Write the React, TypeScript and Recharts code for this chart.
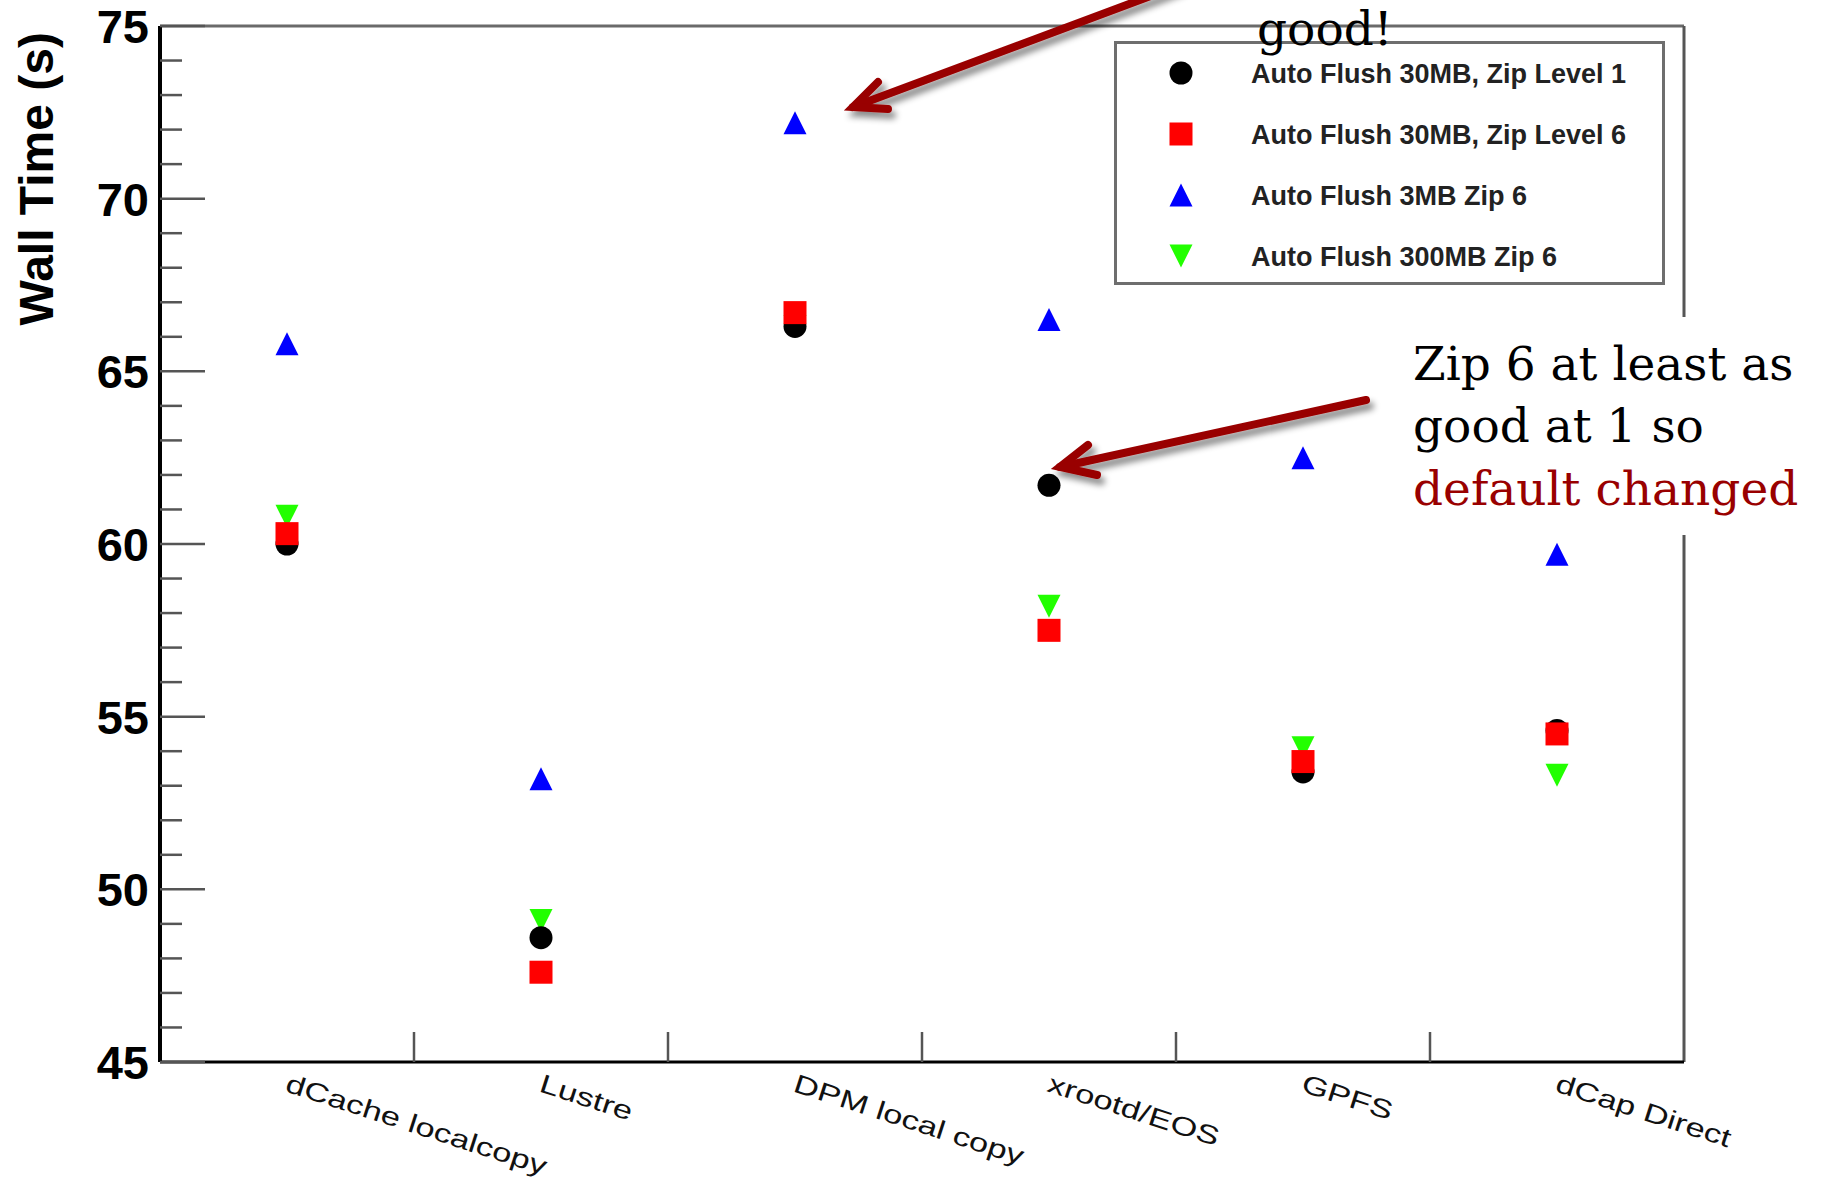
import React from 'react';
import {Legend, ReferenceLine, Scatter, ScatterChart, XAxis, YAxis} from 'recharts';

// storage back-ends on the x axis
const categories = ['dCache localcopy', 'Lustre', 'DPM local copy', 'xrootd/EOS', 'GPFS', 'dCap Direct'];

// wall time (s) per back-end
const flush30Zip1 = [60.0, 48.6, 66.3, 61.7, 53.4, 54.6];
const flush30Zip6 = [60.3, 47.6, 66.7, 57.5, 53.7, 54.5];
const flush3Zip6 = [65.8, 53.2, 72.2, 66.5, 62.5, 59.7];
const flush300Zip6 = [60.8, 49.1, 66.3, 58.2, 54.1, 53.3];

const yDomain = [45, 75];
const yTicks = Array.from({length: 31}, (_, i) => 45 + i);
// half values carry the labels, whole values are the separators between bins
const xTicks = [0.5, 1, 1.5, 2, 2.5, 3, 3.5, 4, 4.5, 5, 5.5];

const series = [
    {name: 'Auto Flush 30MB, Zip Level 1', values: flush30Zip1, color: '#000000', shape: 'circle'},
    {name: 'Auto Flush 30MB, Zip Level 6', values: flush30Zip6, color: '#ff0000', shape: 'square'},
    {name: 'Auto Flush 3MB Zip 6', values: flush3Zip6, color: '#0000ff', shape: 'triUp'},
    {name: 'Auto Flush 300MB Zip 6', values: flush300Zip6, color: '#22ff00', shape: 'triDown'},
];
const drawOrder = [3, 0, 1, 2];

const sans = '"Liberation Sans", Arial, Helvetica, sans-serif';
const serif = '"DejaVu Serif", serif';
const arrowRed = '#990000';

const Marker = ({shape, cx, cy, color, size = 23}: any) => {
    if (cx == null || cy == null) return null;
    const h = size / 2;
    if (shape === 'circle') return <circle cx={cx} cy={cy} r={h} fill={color}/>;
    if (shape === 'square') return <rect x={cx - h} y={cy - h} width={size} height={size} fill={color}/>;
    if (shape === 'triUp') {
        return <polygon points={`${cx},${cy - h} ${cx + h},${cy + h} ${cx - h},${cy + h}`} fill={color}/>;
    }
    return <polygon points={`${cx - h},${cy - h} ${cx + h},${cy - h} ${cx},${cy + h}`} fill={color}/>;
};

const XTick = ({x, y, payload}: any) => {
    const v = payload.value;
    if (Number.isInteger(v)) {
        return <line x1={x} x2={x} y1={y} y2={y - 30} stroke="#555" strokeWidth={2.5}/>;
    }
    return (
        <text transform={`translate(${x - 3},${y + 29}) rotate(18) scale(1.33,1)`}
              fontSize={26} fontFamily={sans} fill="#111">
            {categories[Math.floor(v)]}
        </text>
    );
};

const YTick = ({x, y, payload}: any) => {
    const v = payload.value;
    const major = v % 5 === 0;
    return (
        <g>
            <line x1={x} x2={x + (major ? 45 : 22)} y1={y} y2={y} stroke="#555" strokeWidth={2.5}/>
            {major && (
                <text x={x - 11} y={y} dy="0.36em" textAnchor="end" fontSize={47}
                      fontWeight="bold" fontFamily={sans} fill="#000">
                    {v}
                </text>
            )}
        </g>
    );
};

const LegendBox = () => (
    <svg width={551} height={244} style={{display: 'block'}}>
        <rect x={1.5} y={1.5} width={548} height={241} fill="#fff" stroke="#6e6e6e" strokeWidth={3}/>
        {series.map((s, i) => {
            const cy = 32 + i * 61;
            return (
                <g key={s.name}>
                    <Marker shape={s.shape} cx={67} cy={cy} color={s.color}/>
                    <text x={137} y={cy} dy="0.36em" fontSize={27} fontWeight="bold"
                          fontFamily={sans} fill="#222">
                        {s.name}
                    </text>
                </g>
            );
        })}
    </svg>
);

const Overlay = () => (
    <svg width={1825} height={1182}
         style={{position: 'absolute', left: 0, top: 0, pointerEvents: 'none'}}>
        <defs>
            <filter id="arrowShadow" x="-20%" y="-20%" width="140%" height="140%">
                <feDropShadow dx={4} dy={6} stdDeviation={3} floodColor="#000" floodOpacity={0.45}/>
            </filter>
        </defs>
        <text transform="translate(53,32) rotate(-90)" textAnchor="end" fontSize={48}
              fontWeight="bold" fontFamily={sans} fill="#000">
            Wall Time (s)
        </text>

        <g filter="url(#arrowShadow)" stroke={arrowRed} strokeWidth={8} fill="none"
           strokeLinecap="round" strokeLinejoin="miter">
            <path d="M1180,-15 L853,107"/>
            <path d="M878,82 L853,107 L888,109"/>
            <path d="M1366,400 L1060,467"/>
            <path d="M1088,445 L1060,467 L1097,475"/>
        </g>

        <text x={1257} y={45} fontSize={47} fontFamily={serif} fill="#000">good!</text>

        <rect x={1400} y={317} width={425} height={218} fill="#fff"/>
        <text fontSize={47} fontFamily={serif}>
            <tspan x={1413} y={380} fill="#000">Zip 6 at least as</tspan>
            <tspan x={1413} y={442} fill="#000">good at 1 so</tspan>
            <tspan x={1413} y={505} fill={arrowRed}>default changed</tspan>
        </text>
    </svg>
);

export default function App() {
    return (
        <div style={{position: 'relative', width: 1825, height: 1182, background: '#fff'}}>
            <style>{'body{margin:0;background:#fff}'}</style>
            <ScatterChart width={1825} height={1182} margin={{top: 26, right: 141, bottom: 0, left: 0}}>
                <XAxis type="number" dataKey="x" domain={[0, 6]} ticks={xTicks} interval={0}
                       height={120} tickSize={0} tickMargin={0} tickLine={false}
                       axisLine={{stroke: '#000', strokeWidth: 3}}
                       tick={(p: any) => <XTick {...p}/>}/>
                <YAxis type="number" dataKey="y" domain={yDomain} ticks={yTicks} interval={0}
                       width={160} tickSize={0} tickMargin={0} tickLine={false} allowDataOverflow
                       axisLine={{stroke: '#000', strokeWidth: 4}}
                       tick={(p: any) => <YTick {...p}/>}/>
                <ReferenceLine y={75} stroke="#6a6a6a" strokeWidth={3}/>
                <ReferenceLine x={6} stroke="#555" strokeWidth={3}/>
                <Legend layout="vertical" align="center" verticalAlign="middle"
                        wrapperStyle={{position: 'absolute', left: 1114, top: 41, width: 551, height: 244}}
                        content={() => <LegendBox/>}/>
                {drawOrder.map((idx) => {
                    const s = series[idx];
                    return (
                        <Scatter key={s.name} name={s.name} fill={s.color}
                                 data={s.values.map((v, i) => ({x: i + 0.5, y: v}))}
                                 isAnimationActive={false}
                                 shape={(p: any) => <Marker shape={s.shape} cx={p.cx} cy={p.cy} color={s.color}/>}/>
                    );
                })}
            </ScatterChart>
            <Overlay/>
        </div>
    );
}
